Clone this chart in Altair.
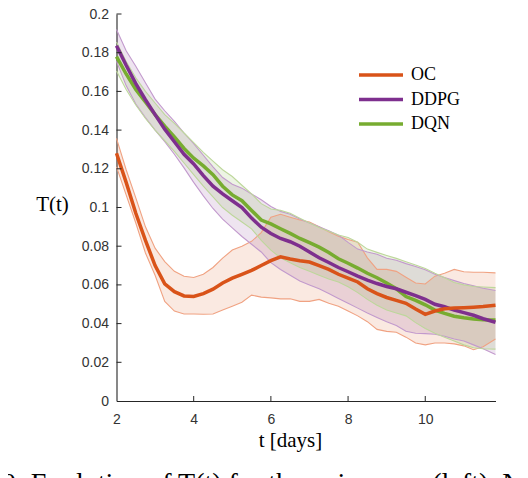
import altair as alt
import pandas as pd

# ---- data ----
T = [2.0, 2.25, 2.5, 2.75, 3.0, 3.25, 3.5, 3.75, 4.0, 4.25, 4.5, 4.75, 5.0, 5.25,
     5.5, 5.75, 6.0, 6.25, 6.5, 6.75, 7.0, 7.25, 7.5, 7.75, 8.0, 8.25, 8.5, 8.75,
     9.0, 9.25, 9.5, 9.75, 10.0, 10.25, 10.5, 10.75, 11.0, 11.25, 11.5, 11.82]

OC_MEAN = [0.128, 0.113, 0.097, 0.083, 0.070, 0.0605, 0.0565, 0.0543, 0.054, 0.0555,
           0.0578, 0.061, 0.0635, 0.0655, 0.0675, 0.070, 0.0725, 0.0745, 0.0734, 0.0725,
           0.0718, 0.070, 0.068, 0.0655, 0.0635, 0.0615, 0.058, 0.0555, 0.0535, 0.052,
           0.0505, 0.0475, 0.0448, 0.0465, 0.0477, 0.048, 0.0482, 0.0485, 0.0488, 0.0495]
OC_HI = [0.1357, 0.1195, 0.105, 0.090, 0.079, 0.072, 0.067, 0.0645, 0.0638, 0.0655,
         0.069, 0.0738, 0.078, 0.080, 0.0825, 0.087, 0.095, 0.0965, 0.095, 0.0935,
         0.0925, 0.090, 0.0875, 0.0852, 0.0835, 0.082, 0.074, 0.068, 0.068, 0.067,
         0.064, 0.061, 0.0605, 0.0645, 0.066, 0.068, 0.0668, 0.0665, 0.0665, 0.0662]
OC_LO = [0.121, 0.1065, 0.092, 0.0765, 0.065, 0.0515, 0.0465, 0.045, 0.045, 0.0448,
         0.045, 0.047, 0.049, 0.051, 0.0547, 0.0537, 0.0533, 0.0528, 0.0528, 0.0515,
         0.0515, 0.0525, 0.0505, 0.049, 0.0465, 0.044, 0.041, 0.037, 0.036, 0.0355,
         0.033, 0.030, 0.029, 0.030, 0.030, 0.0295, 0.0285, 0.0265, 0.028, 0.032]

DDPG_MEAN = [0.1836, 0.1735, 0.164, 0.1557, 0.148, 0.1405, 0.134, 0.1275, 0.1225, 0.1165,
             0.111, 0.107, 0.1035, 0.100, 0.0945, 0.0898, 0.0866, 0.084, 0.0823, 0.080,
             0.077, 0.074, 0.0716, 0.069, 0.0668, 0.0645, 0.0625, 0.0607, 0.0592, 0.058,
             0.0562, 0.0545, 0.0525, 0.050, 0.0487, 0.047, 0.0457, 0.0443, 0.0425, 0.0407]
DDPG_HI = [0.192, 0.181, 0.173, 0.1645, 0.156, 0.150, 0.1445, 0.1385, 0.133, 0.127,
           0.121, 0.1155, 0.112, 0.110, 0.107, 0.104, 0.1005, 0.098, 0.0965, 0.094,
           0.092, 0.090, 0.088, 0.0857, 0.082, 0.0785, 0.077, 0.0758, 0.0738, 0.0727,
           0.071, 0.0695, 0.0678, 0.0655, 0.0638, 0.0622, 0.0607, 0.0595, 0.0583, 0.0571]
DDPG_LO = [0.1755, 0.163, 0.1535, 0.1465, 0.140, 0.134, 0.1275, 0.1205, 0.113, 0.106,
           0.0995, 0.094, 0.0895, 0.085, 0.081, 0.077, 0.0715, 0.068, 0.065, 0.062,
           0.060, 0.058, 0.0555, 0.053, 0.0505, 0.048, 0.0455, 0.0432, 0.041, 0.039,
           0.036, 0.035, 0.0348, 0.0345, 0.0335, 0.032, 0.031, 0.029, 0.027, 0.024]

DQN_MEAN = [0.178, 0.169, 0.161, 0.1545, 0.148, 0.142, 0.1365, 0.1305, 0.1255, 0.1215,
            0.117, 0.111, 0.1065, 0.1035, 0.0985, 0.0935, 0.0915, 0.089, 0.0866, 0.084,
            0.0818, 0.0795, 0.0767, 0.0735, 0.0712, 0.0687, 0.066, 0.0637, 0.061, 0.058,
            0.054, 0.052, 0.0497, 0.047, 0.0453, 0.0438, 0.043, 0.0424, 0.042, 0.0418]
DQN_HI = [0.1855, 0.1755, 0.167, 0.160, 0.154, 0.148, 0.1435, 0.1385, 0.1335, 0.1285,
          0.124, 0.1195, 0.116, 0.1115, 0.107, 0.102, 0.0992, 0.0985, 0.097, 0.0945,
          0.092, 0.0897, 0.0877, 0.0858, 0.0845, 0.082, 0.0785, 0.0768, 0.0752, 0.0737,
          0.072, 0.0703, 0.0685, 0.066, 0.0637, 0.0612, 0.060, 0.0592, 0.0589, 0.0586]
DQN_LO = [0.1705, 0.161, 0.153, 0.146, 0.140, 0.1345, 0.129, 0.123, 0.117, 0.111,
          0.1055, 0.100, 0.096, 0.0925, 0.089, 0.083, 0.078, 0.074, 0.0715, 0.069,
          0.067, 0.065, 0.063, 0.0615, 0.059, 0.056, 0.0525, 0.0495, 0.047, 0.0455,
          0.044, 0.0405, 0.0375, 0.035, 0.033, 0.031, 0.029, 0.0275, 0.027, 0.0268]

SERIES = ["OC", "DDPG", "DQN"]
MAIN_COLORS = ["#D95319", "#7E2F8E", "#77AC30"]
EDGE_COLORS = ["#F0A282", "#C29ACD", "#BDD79B"]
X_TICKS = [2, 4, 6, 8, 10]
Y_TICKS = [0, 0.02, 0.04, 0.06, 0.08, 0.1, 0.12, 0.14, 0.16, 0.18, 0.2]
X_TITLE = "t [days]"
Y_TITLE = "T(t)"
CAPTION = "0: Evolution of T(t) for the noisy case (left). N"

rows = []
for name, mean, lo, hi in [("OC", OC_MEAN, OC_LO, OC_HI),
                           ("DDPG", DDPG_MEAN, DDPG_LO, DDPG_HI),
                           ("DQN", DQN_MEAN, DQN_LO, DQN_HI)]:
    for t, m, l, h in zip(T, mean, lo, hi):
        rows.append({"t": t, "series": name, "mean": m, "lo": l, "hi": h})
df = pd.DataFrame(rows)

W, H = 379, 387
xs = alt.Scale(domain=[2, 11.82], nice=False, zero=False)
ys = alt.Scale(domain=[0, 0.2], nice=False, zero=False)

x_axis = alt.Axis(values=X_TICKS, format="d", title=X_TITLE, labelPadding=11,
                  titleX=173.5, titleY=45, titleAlign="center",
                  titleBaseline="alphabetic", labelFlush=False)
y_axis = alt.Axis(values=Y_TICKS, format="~g", title=Y_TITLE, titleAngle=0,
                  titleX=-64.5, titleY=190, titleAlign="center",
                  titleBaseline="middle", labelPadding=8)


def X(field):
    return alt.X(field, scale=xs, axis=x_axis, title=X_TITLE)


def Y(field):
    return alt.Y(field, scale=ys, axis=y_axis, title=Y_TITLE)


base = alt.Chart(df)
layers = []

# shaded bands
for name, col in zip(SERIES, MAIN_COLORS):
    layers.append(
        base.transform_filter(alt.datum.series == name)
        .mark_area(color=col, opacity=0.13)
        .encode(x=X("t:Q"), y=Y("lo:Q"), y2="hi:Q")
    )

# band edges
for name, col in zip(SERIES, EDGE_COLORS):
    for fld in ["lo", "hi"]:
        layers.append(
            base.transform_filter(alt.datum.series == name)
            .mark_line(color=col, strokeWidth=1.1)
            .encode(x=X("t:Q"), y=Y(f"{fld}:Q"))
        )

color_scale = alt.Scale(domain=SERIES, range=MAIN_COLORS)
legend = alt.Legend(title=None, orient="none", legendX=240.5, legendY=52,
                    symbolType="stroke", symbolSize=1936, symbolStrokeWidth=3.5,
                    labelFont="Liberation Serif", labelFontSize=18,
                    labelColor="black", clipHeight=18, rowPadding=6.5,
                    labelOffset=6, padding=0)

# mean lines (OC on top)
for name in ["DQN", "DDPG", "OC"]:
    layers.append(
        base.transform_filter(alt.datum.series == name)
        .mark_line(strokeWidth=3.5)
        .encode(
            x=X("t:Q"),
            y=Y("mean:Q"),
            color=alt.Color("series:N", scale=color_scale, legend=legend),
        )
    )

# inward tick marks
xt = pd.DataFrame({"v": X_TICKS[1:]})
yt = pd.DataFrame({"v": Y_TICKS[1:]})
layers.append(
    alt.Chart(xt).mark_rule(color="#262626", strokeWidth=1).encode(
        x=X("v:Q"), y=alt.value(H), y2=alt.value(H - 5)
    )
)
layers.append(
    alt.Chart(yt).mark_rule(color="#262626", strokeWidth=1).encode(
        y=Y("v:Q"), x=alt.value(0), x2=alt.value(5)
    )
)

# cropped caption line below the figure
layers.append(
    alt.Chart(pd.DataFrame({"c": [CAPTION]}))
    .mark_text(align="left", baseline="alphabetic", font="Liberation Serif",
               fontSize=28, color="black")
    .encode(text="c:N", x=alt.value(-114.5), y=alt.value(478))
)

chart = (
    alt.layer(*layers)
    .properties(width=W, height=H,
                autosize=alt.AutoSizeParams(type="none"),
                padding={"left": 108.5, "top": 6, "right": 16, "bottom": 77})
    .configure_view(stroke=None)
    .configure_axis(domainColor="#262626", domainWidth=1.1, grid=False,
                    ticks=False, tickSize=0, labelFont="Liberation Sans",
                    labelFontSize=14, labelColor="#333333",
                    titleFont="Liberation Serif", titleFontSize=21,
                    titleColor="black", titleFontWeight="normal")
)

chart.save("out.html", embed_options={"renderer": "svg", "actions": False})
